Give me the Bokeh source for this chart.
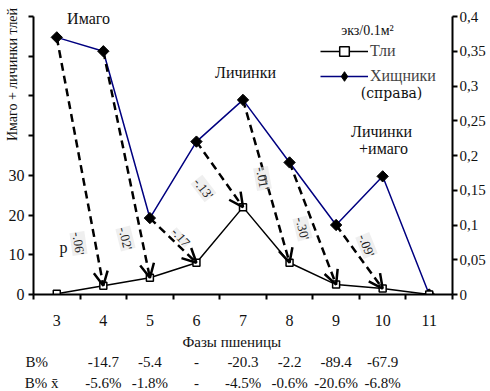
import numpy as np
from bokeh.plotting import figure
from bokeh.layouts import column
from bokeh.models import (Range1d, LinearAxis, FixedTicker, Label, Arrow, OpenHead,
                          Legend, LegendItem)
from bokeh.core.properties import value
from bokeh.embed import file_html
from bokeh.resources import INLINE

# ---- data ----
phases = [3, 4, 5, 6, 7, 8, 9, 10, 11]
aphids = [0.2, 2.2, 4.2, 8.0, 22.0, 8.0, 2.5, 1.5, 0.0]          # left axis
predators = [0.37, 0.35, 0.11, 0.22, 0.28, 0.19, 0.10, 0.17, 0.0]  # right axis
r_labels = ["-.06'", "-.02'", "-.17", "-.13'", "-.01'", "-.30'", "-.09'"]
b_pct = ["-14.7", "-5.4", "-", "-20.3", "-2.2", "-89.4", "-67.9"]
b_pct_mean = ["-5.6%", "-1.8%", "-", "-4.5%", "-0.6%", "-20.6%", "-6.8%"]
row_names = ["В%", "В% x\u0304"]
left_ticks = [0, 10, 20, 30, 40, 50, 60, 70]
left_tick_labels = ["0", "10", "20", "30", "", "", "", ""]
right_ticks = [0, 0.05, 0.1, 0.15, 0.2, 0.25, 0.3, 0.35, 0.4]
right_tick_labels = ["0", "0,05", "0,1", "0,15", "0,2", "0,25", "0,3", "0,35", "0,4"]
phase_edges = [2.5, 3.5, 4.5, 5.5, 6.5, 7.5, 8.5, 9.5, 10.5, 11.5]

FONT = "Liberation Serif"
LMAX, RMAX = 70, 0.4
K = LMAX / RMAX

# page-pixel layout
FL, FR, FB, AXTOP = 33, 452, 294, 16
PX_PER_UNIT = (FB - AXTOP) / LMAX
TOPPAD = 8
YTOP = LMAX + TOPPAD / PX_PER_UNIT
XSCALE = (FR - FL) / 9.0

def dx(px):
    return 2.5 + (px - FL) / XSCALE
def dy(py):
    return (FB - py) / PX_PER_UNIT

xr = Range1d(2.5, 11.5)
p = figure(frame_width=FR - FL, frame_height=FB - (AXTOP - TOPPAD),
           x_range=xr, y_range=Range1d(0, YTOP),
           output_backend="svg", toolbar_location=None,
           min_border_left=FL, min_border_right=490 - FR, min_border_top=AXTOP - TOPPAD,
           min_border_bottom=56)
p.extra_y_ranges = {"r": Range1d(0, YTOP / K)}
p.xgrid.visible = False
p.ygrid.visible = False
p.outline_line_color = None

def style_axis(ax):
    ax.axis_line_width = 2
    ax.axis_line_color = "black"
    ax.major_tick_line_width = 2
    ax.major_tick_line_color = "black"
    ax.major_tick_out = 5
    ax.major_tick_in = 0
    ax.minor_tick_out = 0
    ax.minor_tick_in = 0
    ax.major_label_text_font = FONT
    ax.major_label_text_font_size = "16px"
    ax.major_label_text_color = "#111111"
    ax.axis_label_text_font = FONT
    ax.axis_label_text_font_style = "normal"
    ax.axis_label_text_color = "#111111"

# x axis: labels at phases, tick marks between phases (minor ticks)
xa = p.xaxis[0]
style_axis(xa)
xa.ticker = FixedTicker(ticks=phases, minor_ticks=phase_edges)
xa.major_tick_line_color = None
xa.major_tick_out = 0
xa.minor_tick_out = 5
xa.minor_tick_line_width = 2
xa.minor_tick_line_color = "black"
xa.major_label_standoff = 15
xa.axis_label = "Фазы пшеницы\u2003\u2002"
xa.axis_label_text_font_size = "15px"
xa.axis_label_standoff = 5

ya = p.yaxis[0]
style_axis(ya)
ya.ticker = FixedTicker(ticks=left_ticks)
ya.major_label_overrides = {t: s for t, s in zip(left_ticks, left_tick_labels)}
ya.major_label_standoff = 4
ya.bounds = (0, LMAX)
ya.axis_label = "\u2003" * 11 + "Имаго + личинки тлей"
ya.axis_label_text_font_size = "14px"
ya.axis_label_standoff = -14

ra = LinearAxis(y_range_name="r", ticker=FixedTicker(ticks=right_ticks))
style_axis(ra)
ra.major_label_overrides = {t: s for t, s in zip(right_ticks, right_tick_labels)}
ra.major_label_standoff = 2
ra.major_label_text_font_size = "15px"
ra.bounds = (0, RMAX)
p.add_layout(ra, "right")

# series
r1 = p.line(phases, aphids, line_color="black", line_width=1.5)
pred_line = p.line(phases, predators, y_range_name="r", line_color="#000080", line_width=1.5)
# diamond glyph used for the legend swatch (hidden under the rotated squares)
pred_key = p.scatter(phases, predators, y_range_name="r", marker="diamond", size=8,
                     fill_color="black", line_color="black")
pred_pts = p.scatter(phases, predators, y_range_name="r", marker="square", angle=np.pi / 4,
                     size=8, fill_color="black", line_color="black")
s1 = p.scatter(phases, aphids, marker="square", size=7, fill_color="white",
               line_color="black", line_width=1.5)

# dashed arrows from predators (phase i) to aphids (phase i+1)
for i in range(len(phases) - 2):
    p.add_layout(Arrow(x_start=phases[i], y_start=predators[i] * K,
                       x_end=phases[i + 1], y_end=aphids[i + 1],
                       line_color="black", line_width=2.5, line_dash="8 5",
                       end=OpenHead(size=14, line_width=2.5, line_color="black")))

# correlation labels along arrows
r_pos = [(78, 243, -82), (125, 238, -76), (180, 237, -48), (203, 188, -52),
         (262, 178, -80), (302, 228, -76), (366, 245, -68)]
for txt, (px, py, ang) in zip(r_labels, r_pos):
    p.add_layout(Label(x=dx(px), y=dy(py), text=txt, angle=np.deg2rad(ang),
                       text_align="center", text_baseline="middle",
                       text_font=FONT, text_font_size="13px", text_color="#222222",
                       background_fill_color="#e4e4e4", background_fill_alpha=0.6))

def lab(px, py, text, size="16px", align="center", font=FONT, angle=0.0, color="#111111"):
    p.add_layout(Label(x=dx(px), y=dy(py), text=text, text_align=align,
                       text_baseline="middle", text_font=font, text_font_size=size,
                       angle=angle, text_color=color))

lab(63, 247, "р")
lab(88, 18, "Имаго")
lab(245, 72, "Личинки")
lab(381, 131, "Личинки")
lab(383, 148, "+имаго")

# legend
legend = Legend(items=[LegendItem(label="Тли", renderers=[r1, s1]),
                       LegendItem(label="Хищники", renderers=[pred_line, pred_key])],
                location=(287, 206), background_fill_alpha=0, border_line_color=None,
                padding=0, margin=0, spacing=1, glyph_width=48, glyph_height=24,
                label_standoff=2, label_text_font=FONT, label_text_font_size="16px",
                label_height=20)
p.add_layout(legend)
lab(367, 30, "экз/0.1м²", size="14px")
lab(391, 92, "(справа)", size="14px", font="DejaVu Serif")

# ---- bottom table as a second figure, frame aligned with the chart ----
T_TOP, T_BOT = 350, 391
row_y = [359 - T_TOP, 380 - T_TOP]
p2 = figure(frame_width=FR - FL, frame_height=T_BOT - T_TOP,
            x_range=xr, y_range=Range1d(T_BOT - T_TOP, 0),
            x_axis_type=None, output_backend="svg", toolbar_location=None,
            min_border_left=FL, min_border_right=490 - FR, min_border_top=0,
            min_border_bottom=0)
p2.xgrid.visible = False
p2.ygrid.visible = False
p2.outline_line_color = None
ax2 = p2.yaxis[0]
ax2.ticker = FixedTicker(ticks=row_y)
ax2.major_label_overrides = {t: s for t, s in zip(row_y, [row_names[0] + "\u2002\u2009", row_names[1]])}
ax2.axis_line_color = None
ax2.major_tick_line_color = None
ax2.minor_tick_line_color = None
ax2.major_tick_out = 0
ax2.major_tick_in = 0
ax2.major_label_standoff = -25
ax2.major_label_text_font = FONT
ax2.major_label_text_font_size = "15px"
ax2.major_label_text_color = "#111111"

p2.text(x=phases[1:], y=[row_y[0]] * len(b_pct), text=b_pct, text_align="center",
        text_baseline="middle", text_font=value(FONT), text_font_size="15px",
        text_color="#111111")
p2.text(x=phases[1:], y=[row_y[1]] * len(b_pct_mean), text=b_pct_mean, text_align="center",
        text_baseline="middle", text_font=value(FONT), text_font_size="15px",
        text_color="#111111")

layout = column(p, p2, spacing=0)
open("out.html", "w").write(file_html(layout, INLINE))
